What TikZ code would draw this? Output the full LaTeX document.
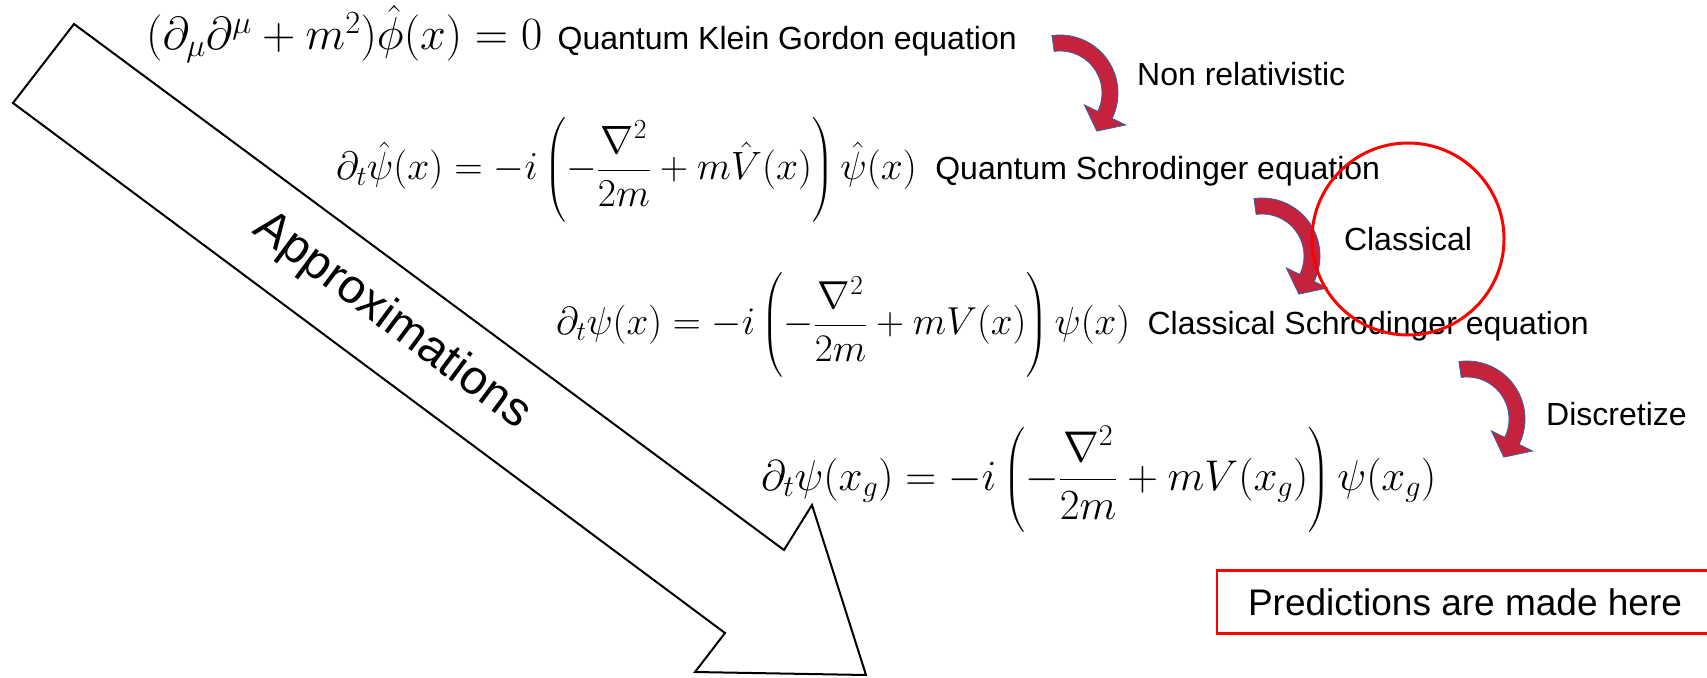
\RequirePackage{fix-cm}
\documentclass[tikz,border=0pt]{standalone}
\usepackage{amsmath}
\usepackage[no-math]{fontspec}
\setmainfont{Liberation Sans}
\usepackage{tikz}
\usetikzlibrary{positioning, calc}

\definecolor{bendred}{RGB}{197,34,62}
\definecolor{bendedge}{RGB}{52,101,164}

\tikzset{
  eqn/.style={inner sep=0pt, font=\fontsize{43}{50}\selectfont},
  lbl/.style={inner sep=0pt, font=\fontsize{32}{38}\selectfont},
  bendshape/.style={fill=bendred, draw=bendedge, line width=0.8pt},
}

% curved arrow, #1 #2 = centre of the bend
\newcommand{\bendarrow}[2]{%
  \filldraw[bendshape] ($(#1,#2)+(98:58)$) arc[start angle=98, end angle=-26, radius=58]
    -- ($(#1,#2)+(-26:73)$) -- ($(#1,#2)+(-46:53)$) -- ($(#1,#2)+(-26:27)$)
    -- ($(#1,#2)+(-26:42)$) arc[start angle=-26, end angle=98, radius=42] -- cycle;
}

\begin{document}
\begin{tikzpicture}[x=1pt, y=1pt]
  \useasboundingbox (0,0) rectangle (1707,-677);

  % big arrow
  \draw[line width=2pt, fill=white] (74,-24) -- (784,-550) -- (812,-505) -- (866,-675)
    -- (695,-672) -- (725,-633) -- (13,-103) -- cycle;
  \node[rotate=-36.6, inner sep=0pt, font=\fontsize{48}{56}\selectfont] (approx) at (392,-321) {Approximations};

  % equations
  \node[eqn, anchor=base west, font=\fontsize{46.2}{54}\selectfont] (kg) at (146,-50)
    {$(\partial_\mu\partial^\mu + m^2)\hat\phi(x) = 0$};
  \node[eqn, anchor=west, font=\fontsize{39.5}{46}\selectfont] (qs) at (336,-170)
    {$\partial_t\hat\psi(x) = -i\left(-\dfrac{\nabla^2}{2m} + m\hat V(x)\right)\hat\psi(x)$};
  \node[eqn, anchor=west, font=\fontsize{39}{46}\selectfont] (cs) at (556,-325)
    {$\partial_t\psi(x) = -i\left(-\dfrac{\nabla^2}{2m} + mV(x)\right)\psi(x)$};
  \node[eqn, anchor=west] (dc) at (761,-479)
    {$\partial_t\psi(x_g) = -i\left(-\dfrac{\nabla^2}{2m} + mV(x_g)\right)\psi(x_g)$};

  \node[lbl, base right=15pt of kg] (kglbl) {Quantum Klein Gordon equation};
  \node[lbl, base right=18pt of qs] (qslbl) {Quantum Schrodinger equation};
  \node[lbl, base right=17pt of cs] (cslbl) {Classical Schrodinger equation};

  % steps
  \bendarrow{1060}{-93}
  \bendarrow{1262}{-256}
  \bendarrow{1467}{-419}
  \node[lbl, anchor=west] (nonrel) at (1137,-74) {Non relativistic};
  \node[lbl, anchor=west] (discr) at (1546,-414) {Discretize};

  \node[circle, draw=red, line width=3pt, minimum size=192pt, inner sep=0pt,
    font=\fontsize{32}{38}\selectfont] (classical) at (1408,-239) {Classical};

  \node[draw=red, line width=2.5pt, minimum width=496pt, minimum height=63pt,
    font=\fontsize{37}{44}\selectfont] (pred) at (1465,-602) {Predictions are made here};
\end{tikzpicture}
\end{document}
